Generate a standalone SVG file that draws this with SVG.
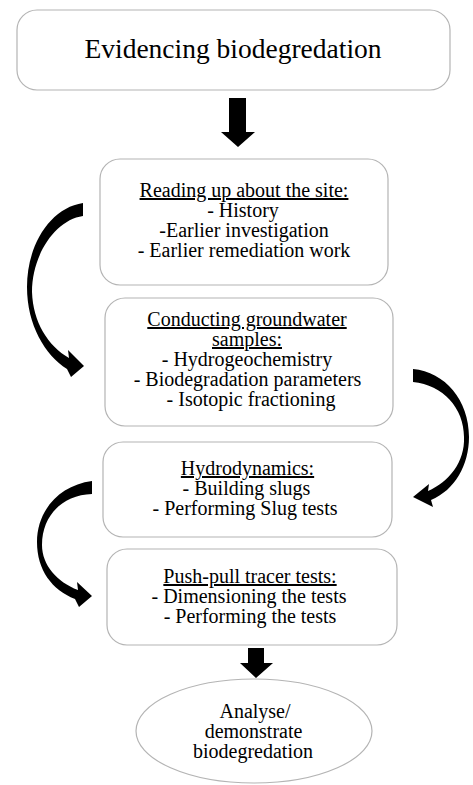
<svg xmlns="http://www.w3.org/2000/svg" width="473" height="785" viewBox="0 0 473 785">
<style>
.box{fill:#fff;stroke:#b4b4b4;stroke-width:1.2}
.t{font-family:"Liberation Serif","Times New Roman",serif;font-size:20px;fill:#000;text-anchor:middle}
.h{text-decoration:underline}
.arr{fill:#000}
</style>
<rect width="473" height="785" fill="#fff"/>
<g id="title">
<rect class="box" x="17" y="10" width="433" height="80" rx="20"/>
<text class="t" x="233" y="58" style="font-size:27.5px">Evidencing biodegredation</text>
</g>
<g id="reading">
<rect class="box" x="100" y="159" width="288" height="126" rx="20"/>
<text class="t h" x="244" y="197">Reading up about the site:</text>
<text class="t" x="243" y="217">- History</text>
<text class="t" x="244" y="237">-Earlier investigation</text>
<text class="t" x="244" y="257">- Earlier remediation work</text>
</g>
<g id="sampling">
<rect class="box" x="105" y="298" width="288" height="128" rx="20"/>
<text class="t h" x="247" y="326">Conducting groundwater</text>
<text class="t h" x="247" y="346">samples:</text>
<text class="t" x="247" y="366">- Hydrogeochemistry</text>
<text class="t" x="247.5" y="386">- Biodegradation parameters</text>
<text class="t" x="251" y="406">- Isotopic fractioning</text>
</g>
<g id="hydro">
<rect class="box" x="103" y="442" width="289" height="95" rx="20"/>
<text class="t h" x="247.5" y="475">Hydrodynamics:</text>
<text class="t" x="246.5" y="495">- Building slugs</text>
<text class="t" x="245" y="515">- Performing Slug tests</text>
</g>
<g id="pushpull">
<rect class="box" x="107" y="549" width="290" height="96" rx="20"/>
<text class="t h" x="250" y="583">Push-pull tracer tests:</text>
<text class="t" x="249" y="603">- Dimensioning the tests</text>
<text class="t" x="250" y="623">- Performing the tests</text>
</g>
<g id="analyse">
<ellipse class="box" cx="254" cy="731" rx="118" ry="52"/>
<text class="t" x="255" y="718">Analyse/</text>
<text class="t" x="253.5" y="738">demonstrate</text>
<text class="t" x="253" y="758">biodegredation</text>
</g>
<g id="connectors">
<path class="arr" d="M229,98 H246 V132 H255 L238,147 L221,132 H229 Z"/>
<path class="arr" d="M248,648 H264 V663 H273 L256,678 L240,663 H248 Z"/>
<path class="arr" d="M83,203 C50,208 27,245 27,287 C27,325 45,355 67,369 L71,377 L84,366 L68,350 L69,358 C48,346 33,322 32,292 C32,255 55,220 83,216 Z"/>
<path class="arr" d="M413,369 C445,372 469,400 469,437 C469,465 455,490 431,500 L433,507 L413,497 L429,484 L428,491 C449,482 465,462 464,437 C464,408 443,385 413,382 Z"/>
<path class="arr" d="M92,481 C60,485 37,510 37,542 C37,570 52,590 75,599 L79,607 L92,596 L77,582 L78,590 C57,582 42,565 42,545 C42,515 63,495 92,494 Z"/>
</g>
</svg>
